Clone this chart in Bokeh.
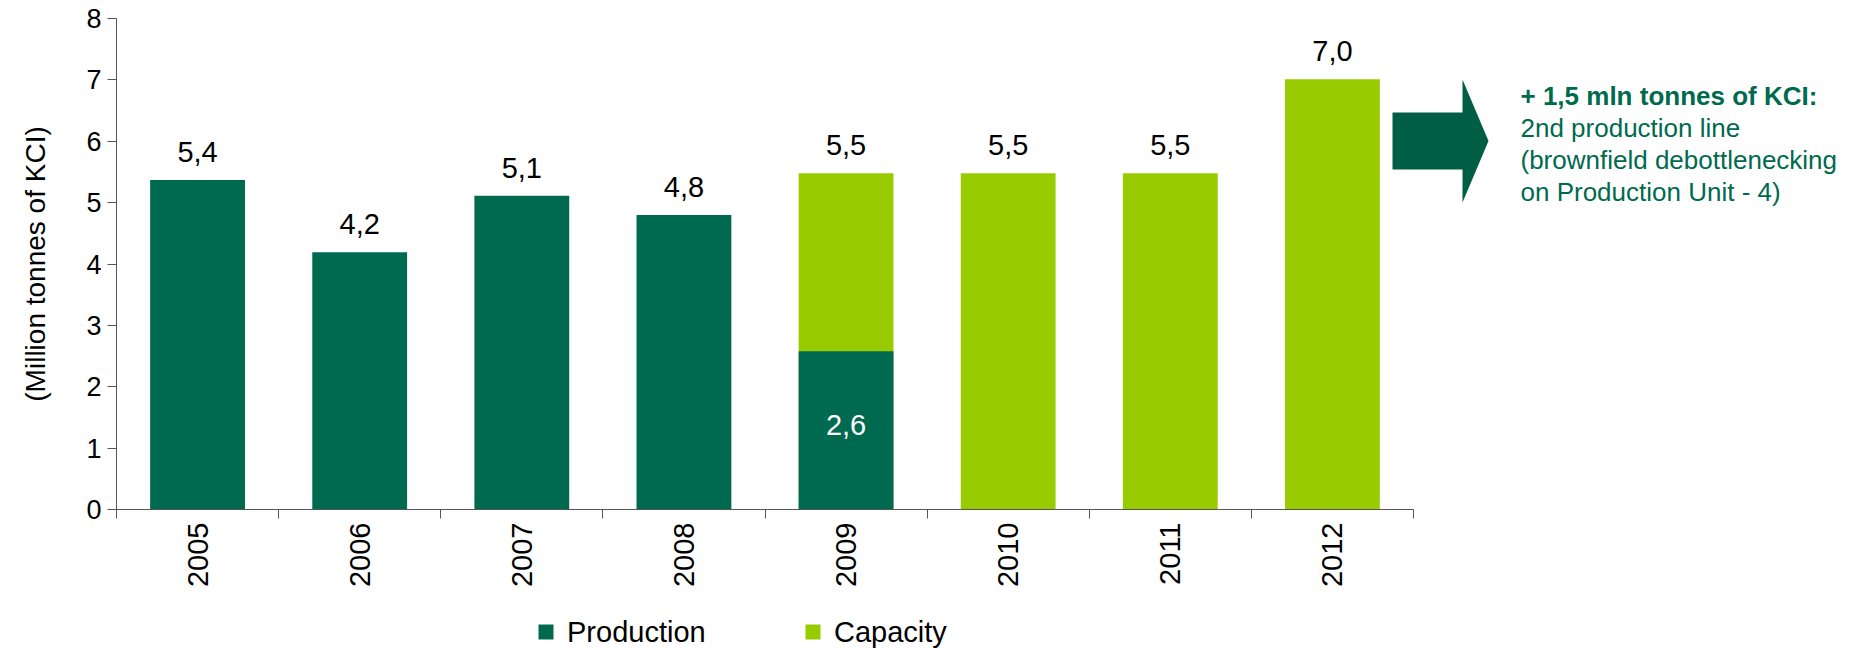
from bokeh.plotting import figure
from bokeh.layouts import column
from bokeh.models import (Range1d, LinearAxis, FixedTicker, PolyAnnotation, Label,
                          ColumnDataSource)
from bokeh.core.properties import value
from bokeh.embed import file_html
from bokeh.resources import INLINE
import math

# ---- data ----
years = ["2005", "2006", "2007", "2008", "2009", "2010", "2011", "2012"]
production = [5.37, 4.19, 5.11, 4.80, 2.58, 0, 0, 0]
capacity = [0, 0, 0, 0, 5.48, 5.48, 5.48, 7.01]
top_labels = ["5,4", "4,2", "5,1", "4,8", "5,5", "5,5", "5,5", "7,0"]
inner_year = "2009"
inner_label = "2,6"
y_ticks = [0, 1, 2, 3, 4, 5, 6, 7, 8]
y_title = "(Million tonnes of KCI)"
series_names = ["Production", "Capacity"]
note_title = "+ 1,5 mln tonnes of KCI:"
note_lines = ["2nd production line", "(brownfield debottlenecking", "on Production Unit - 4)"]

# ---- style / layout ----
DARK = "#006A50"
LIGHT = "#99CC00"
ARROW = "#005E45"
NOTE = "#006A4E"
AXIS = "#555555"
FONT = "Liberation Sans"
W = 1861
H_MAIN, H_LEG = 600, 48
LEFT, TOP = 116, 18
PLOT_W = 1297          # width taken by the eight categories
FRAME_W = W - LEFT     # frame runs to the right edge so the note can live inside it
FRAME_H = 491

n = len(years)
centers = [i + 0.5 for i in range(n)]
x_end = n * FRAME_W / PLOT_W

p = figure(x_range=Range1d(0, x_end), y_range=Range1d(0, 8),
           frame_width=FRAME_W, frame_height=FRAME_H,
           min_border_left=LEFT, min_border_right=0, min_border_top=TOP,
           min_border_bottom=H_MAIN - TOP - FRAME_H,
           output_backend="svg", toolbar_location=None, x_axis_location=None,
           background_fill_color="white", border_fill_color="white")
p.outline_line_color = None
p.xgrid.visible = False
p.ygrid.visible = False

# y axis
ya = p.yaxis[0]
ya.ticker = FixedTicker(ticks=y_ticks)
ya.minor_tick_line_color = None
ya.major_tick_in = 0
ya.major_tick_out = 9
ya.axis_line_color = AXIS
ya.major_tick_line_color = AXIS
ya.major_label_text_font = FONT
ya.major_label_text_font_size = "27px"
ya.major_label_text_color = "black"
ya.major_label_standoff = 6
ya.axis_label = y_title
ya.axis_label_text_font = FONT
ya.axis_label_text_font_size = "28px"
ya.axis_label_text_font_style = "normal"
ya.axis_label_text_color = "black"
ya.axis_label_standoff = 32

# x axis: line + ticks on category boundaries
tick_axis = LinearAxis(ticker=FixedTicker(ticks=list(range(n + 1))), bounds=(0, n),
                       major_label_text_font_size="1px", major_label_text_alpha=0,
                       major_label_standoff=0, major_tick_in=0, major_tick_out=9,
                       minor_tick_line_color=None, axis_line_color=AXIS,
                       major_tick_line_color=AXIS)
p.add_layout(tick_axis, "below")
# year labels at category centres
cat_axis = LinearAxis(ticker=FixedTicker(ticks=centers),
                      major_label_overrides={c: y for c, y in zip(centers, years)},
                      major_tick_line_color=None, minor_tick_line_color=None,
                      axis_line_color=None, major_label_orientation=math.pi / 2,
                      major_label_text_font=FONT, major_label_text_font_size="29px",
                      major_label_text_color="black", major_label_standoff=-2)
p.add_layout(cat_axis, "below")

src = ColumnDataSource(dict(x=centers, production=production, capacity=capacity,
                            label=top_labels,
                            label_y=[max(a, b) for a, b in zip(production, capacity)]))

p.vbar(x="x", top="capacity", width=0.585, source=src, fill_color=LIGHT, line_color=None)
p.vbar(x="x", top="production", width=0.585, source=src, fill_color=DARK, line_color=None)

p.text(x="x", y="label_y", text="label", source=src, text_font=value(FONT),
       text_font_size="29px", text_align="center", text_baseline="alphabetic",
       text_color="black", y_offset=-28)
k = years.index(inner_year)
p.text(x=[centers[k]], y=[production[k] / 2], text=[inner_label],
       text_font=value(FONT), text_font_size="29px", text_align="center",
       text_baseline="middle", text_color="white", y_offset=-5)

# arrow + note (screen units relative to the frame's bottom-left corner)
arrow = PolyAnnotation(xs=[1276, 1346, 1346, 1372, 1346, 1346, 1276],
                       ys=[397, 397, 430, 368.5, 307, 340, 340],
                       xs_units="screen", ys_units="screen",
                       fill_color=ARROW, fill_alpha=1, line_color=None)
p.add_layout(arrow)
p.add_layout(Label(x=1404, y=414, x_units="screen", y_units="screen", text=note_title,
                   text_font=FONT, text_font_size="26px", text_font_style="bold",
                   text_color=NOTE, text_baseline="middle"))
for i, line in enumerate(note_lines):
    p.add_layout(Label(x=1404, y=382 - i * 32, x_units="screen", y_units="screen", text=line,
                       text_font=FONT, text_font_size="26px", text_color=NOTE,
                       text_baseline="middle"))

# ---- legend strip below the chart (pixel-like ranges, same frame alignment as the chart) ----
p2 = figure(x_range=Range1d(LEFT, W), y_range=Range1d(H_MAIN + H_LEG, H_MAIN),
            frame_width=FRAME_W, frame_height=H_LEG,
            min_border_left=LEFT, min_border_right=0, min_border_top=0, min_border_bottom=0,
            output_backend="svg", toolbar_location=None,
            x_axis_location=None, y_axis_location=None,
            background_fill_color="white", border_fill_color="white")
p2.outline_line_color = None
p2.xgrid.visible = False
p2.ygrid.visible = False
leg_left = [538, 805]          # left edge of each legend swatch
leg_y = H_MAIN + 31.5
leg_colors = [DARK, LIGHT]
p2.scatter(x=[x + 7.5 for x in leg_left], y=[leg_y] * 2, marker="square", size=15,
           fill_color=leg_colors, line_color=None)
p2.text(x=[x + 28.5 for x in leg_left], y=[leg_y] * 2, text=series_names,
        text_font=value(FONT), text_font_size="29px", text_align="left",
        text_baseline="middle", text_color="black")

layout = column(p, p2, spacing=0)
open("out.html", "w").write(file_html(layout, INLINE))
